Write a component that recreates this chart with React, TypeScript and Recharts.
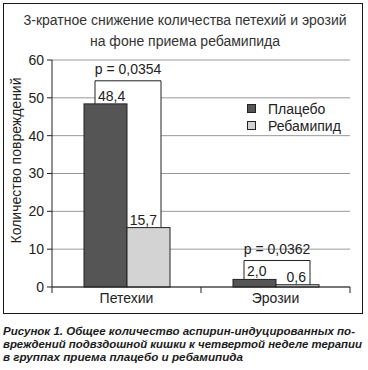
import React from "react";
import { BarChart, Bar, XAxis, YAxis, CartesianGrid, Legend } from "recharts";

const categories = ["Петехии", "Эрозии"];
const placebo = [48.4, 2.0];
const rebamipide = [15.7, 0.6];
const pValues = ["0,0354", "0,0362"];
const bracketLevels = [54.5, 7];
const yTicks = [0, 10, 20, 30, 40, 50, 60];
const captionLines = [
  "Рисунок 1. Общее количество аспирин-индуцированных по-",
  "вреждений подвздошной кишки к четвертой неделе терапии",
  "в группах приема плацебо и ребамипида",
];
const captionWidths = [352, 359, 240];

const data = categories.map((name, i) => ({
  name,
  placebo: placebo[i],
  rebamipide: rebamipide[i],
  p: pValues[i],
  bracket: bracketLevels[i],
}));

const FONT = "'Liberation Sans', Arial, Helvetica, sans-serif";
const INK = "#222";
const W = 368;
const H = 315;
const PLOT_TOP = 60;
const PLOT_LEFT = 52;
const PLOT_RIGHT = 18;
const AXIS_H = 28;
const PLOT_H = H - PLOT_TOP - AXIS_H;
const PLOT_W = W - PLOT_LEFT - PLOT_RIGHT;
const Y_MAX = 60;

const yOf = (v: number) => PLOT_TOP + PLOT_H * (1 - v / Y_MAX);
const fmt = (v: number) => v.toFixed(1).replace(".", ",");

const PlaceboShape = (props: any) => {
  const { x, y, width, height, payload, fill } = props;
  const bx1 = x + 11;
  const bx2 = x + 2 * width - 9;
  const by = yOf(payload.bracket);
  const rebTop = yOf(payload.rebamipide);
  const mid = x + width;
  return (
    <g>
      <polygon
        points={`${bx1},${y} ${bx1},${by} ${bx2},${by} ${bx2},${rebTop} ${mid},${rebTop} ${mid},${y}`}
        fill="#fff"
      />
      <rect x={x} y={y} width={width} height={height} fill={fill} stroke={INK} strokeWidth={1} />
      <path d={`M${bx1},${y} V${by} H${bx2} V${rebTop}`} fill="none" stroke={INK} strokeWidth={1} />
      <text x={(bx1 + bx2) / 2} y={by - 7} textAnchor="middle" fontSize={14} fill={INK} fontFamily={FONT}>
        {`p = ${payload.p}`}
      </text>
      <text x={bx1 + 3} y={y - 3} textAnchor="start" fontSize={14} fill={INK} fontFamily={FONT}>
        {fmt(payload.placebo)}
      </text>
    </g>
  );
};

const RebamipideShape = (props: any) => {
  const { x, y, width, height, payload, fill } = props;
  return (
    <g>
      <rect x={x} y={y} width={width} height={height} fill={fill} stroke={INK} strokeWidth={1} />
      <text x={x + width - 13} y={y - 3} textAnchor="end" fontSize={14} fill={INK} fontFamily={FONT}>
        {fmt(payload.rebamipide)}
      </text>
    </g>
  );
};

const CategoryTick = (props: any) => {
  const { x, payload, index } = props;
  const half = PLOT_W / categories.length / 2;
  const axisY = PLOT_TOP + PLOT_H;
  return (
    <g>
      <line x1={x - half} x2={x - half} y1={axisY} y2={axisY + 6} stroke={INK} />
      {index === categories.length - 1 && (
        <line x1={x + half} x2={x + half} y1={axisY} y2={axisY + 6} stroke={INK} />
      )}
      <text x={x} y={axisY + 16} textAnchor="middle" fontSize={14} fill={INK} fontFamily={FONT}>
        {payload.value}
      </text>
    </g>
  );
};

const YLabel = () => (
  <text
    transform={`translate(21, ${PLOT_TOP + PLOT_H / 2 - 13}) rotate(-90)`}
    textAnchor="middle"
    fontSize={14}
    fill={INK}
    fontFamily={FONT}
  >
    Количество повреждений
  </text>
);

const LegendContent = (props: any) => (
  <div style={{ fontFamily: FONT, fontSize: 14, color: INK }}>
    {(props.payload || []).map((entry: any) => (
      <div key={entry.value} style={{ display: "flex", alignItems: "center", height: 17 }}>
        <span
          style={{
            display: "inline-block",
            width: 9,
            height: 9,
            background: entry.color,
            border: `1px solid ${INK}`,
            boxSizing: "border-box",
            marginRight: 12,
          }}
        />
        <span>{entry.value}</span>
      </div>
    ))}
  </div>
);

export default function App() {
  return (
    <div style={{ position: "absolute", left: 0, top: 0, width: W, height: 370, background: "#fff", fontFamily: FONT }}>
      <div
        style={{
          position: "absolute",
          left: 3,
          top: 3,
          width: 360,
          height: 311,
          border: "1.5px solid #1a1a1a",
          boxSizing: "border-box",
        }}
      />
      <div
        style={{
          position: "absolute",
          left: 0,
          top: 10,
          width: W,
          textAlign: "center",
          fontSize: 14,
          lineHeight: "21px",
          color: "#333",
          paddingLeft: 2,
          boxSizing: "border-box",
        }}
      >
        3-кратное снижение количества петехий и эрозий
        <br />
        на фоне приема ребамипида
      </div>
      <div style={{ position: "absolute", left: 0, top: 0 }}>
        <BarChart
          width={W}
          height={H}
          data={data}
          margin={{ top: PLOT_TOP, right: PLOT_RIGHT, bottom: 0, left: 0 }}
          barGap={0}
        >
          <CartesianGrid vertical={false} stroke="#999" strokeWidth={1} />
          <XAxis
            dataKey="name"
            height={AXIS_H}
            axisLine={{ stroke: INK }}
            tickLine={false}
            tick={<CategoryTick />}
            interval={0}
          />
          <YAxis
            width={PLOT_LEFT}
            domain={[0, Y_MAX]}
            ticks={yTicks}
            interval={0}
            axisLine={{ stroke: INK }}
            tickLine={{ stroke: INK }}
            tickSize={5}
            tickMargin={3}
            tick={{ fontSize: 14, fill: INK, fontFamily: FONT }}
            label={<YLabel />}
          />
          <Legend
            layout="vertical"
            align="center"
            verticalAlign="middle"
            wrapperStyle={{ left: 247, top: 100, width: 110 }}
            content={<LegendContent />}
          />
          <Bar
            dataKey="placebo"
            name="Плацебо"
            fill="#555555"
            barSize={43}
            shape={<PlaceboShape />}
            isAnimationActive={false}
          />
          <Bar
            dataKey="rebamipide"
            name="Ребамипид"
            fill="#d3d3d3"
            barSize={43}
            shape={<RebamipideShape />}
            isAnimationActive={false}
          />
        </BarChart>
      </div>
      <svg
        style={{ position: "absolute", left: 0, top: 318 }}
        width={W}
        height={52}
      >
        {captionLines.map((line, i) => (
          <text
            key={i}
            x={3}
            y={17 + i * 13}
            textLength={captionWidths[i]}
            lengthAdjust="spacingAndGlyphs"
            fontSize={11.5}
            fontWeight="bold"
            fontStyle="italic"
            fill="#1c1c1c"
            fontFamily={FONT}
          >
            {line}
          </text>
        ))}
      </svg>
    </div>
  );
}
